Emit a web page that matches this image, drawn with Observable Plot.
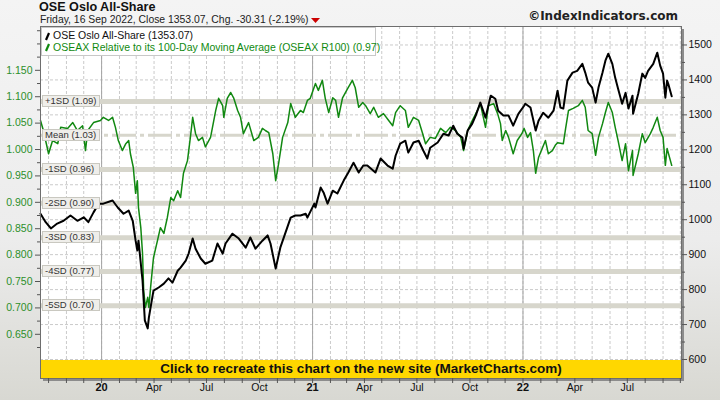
<!DOCTYPE html>
<html><head><meta charset="utf-8">
<script src="https://cdn.jsdelivr.net/npm/d3@7"></script>
<script src="https://cdn.jsdelivr.net/npm/@observablehq/plot@0.6"></script>
<style>
html,body{margin:0;padding:0;}
body{width:720px;height:400px;overflow:hidden;background:linear-gradient(#f4f4f4 0%,#ececec 60%,#d8d8d2 100%);font-family:"Liberation Sans",Arial,sans-serif;}
#wrap{position:relative;width:720px;height:400px;}
#header{position:relative;height:25px;}
#title{position:absolute;left:39px;top:0px;font-size:12.6px;line-height:14px;font-weight:bold;color:#111;}
#sub{position:absolute;left:40px;top:14px;font-size:10.4px;line-height:11px;color:#222;white-space:nowrap;}
#copy{position:absolute;right:42px;top:9px;font-family:"DejaVu Sans",sans-serif;font-size:12px;line-height:14px;font-weight:bold;color:#222;}
#shadow{position:absolute;left:43px;top:29px;width:641px;height:352px;background:#8c8c8c;}
#chart{position:relative;z-index:1;}
#legend{position:absolute;z-index:2;left:41px;top:27px;width:333px;height:27px;background:#fff;border:1px solid #c8c8c8;font-size:10.5px;}
#legend div{position:absolute;left:11px;white-space:nowrap;}
#legend svg{position:absolute;left:2px;}
.sd{position:absolute;z-index:2;left:42px;height:10px;width:54px;background:#efeeea;border:1px solid #c9c8c0;font-size:9.5px;line-height:10px;color:#333;padding-left:2px;white-space:nowrap;box-sizing:content-box;}
#banner{position:absolute;z-index:2;left:41px;top:360px;width:640px;height:18px;background:#ffd700;text-align:center;font-size:13.5px;font-weight:bold;line-height:18px;color:#111;font-family:"Liberation Sans",Arial,sans-serif;}
</style></head>
<body><div id="wrap">
<div id="header">
  <div id="title">OSE Oslo All-Share</div>
  <div id="sub">Friday, 16 Sep 2022, Close 1353.07, Chg. -30.31 (-2.19%) <svg width="10" height="7" style="vertical-align:middle"><polygon points="0,1 9,1 4.5,6" fill="#cc0000"/></svg></div>
  <div id="copy">©IndexIndicators.com</div>
</div>
<div id="shadow"></div>
<div id="chart"></div>
<div id="legend">
  <svg width="8" height="10" style="top:3px"><line x1="2" y1="9" x2="5" y2="2" stroke="#000" stroke-width="2.2"/></svg>
  <div style="top:1px;color:#111">OSE Oslo All-Share (1353.07)</div>
  <svg width="8" height="10" style="top:14px"><line x1="2" y1="9" x2="5" y2="2" stroke="#108a10" stroke-width="2.2"/></svg>
  <div style="top:13px;color:#108a10">OSEAX Relative to its 100-Day Moving Average (OSEAX R100) (0.97)</div>
</div>
<div id="banner">Click to recreate this chart on the new site (MarketCharts.com)</div>
</div>
<script>
// ---- data ----
const priceDates = ["2019-09-17","2019-09-26","2019-10-05","2019-10-16","2019-10-27","2019-11-08","2019-11-20","2019-12-01","2019-12-09","2019-12-18","2019-12-27","2020-01-04","2020-01-20","2020-01-29","2020-02-08","2020-02-17","2020-02-24","2020-02-29","2020-03-03","2020-03-05","2020-03-12","2020-03-16","2020-03-21","2020-03-23","2020-03-26","2020-03-31","2020-04-09","2020-04-18","2020-04-26","2020-05-03","2020-05-12","2020-05-17","2020-05-26","2020-05-31","2020-06-07","2020-06-12","2020-06-21","2020-06-29","2020-07-11","2020-07-20","2020-07-29","2020-08-03","2020-08-15","2020-08-26","2020-09-07","2020-09-15","2020-09-24","2020-10-06","2020-10-15","2020-10-20","2020-10-29","2020-11-06","2020-11-15","2020-11-24","2020-12-02","2020-12-11","2020-12-20","2020-12-23","2021-01-04","2021-01-06","2021-01-15","2021-01-20","2021-01-27","2021-02-05","2021-02-13","2021-02-24","2021-03-04","2021-03-13","2021-03-22","2021-03-30","2021-04-06","2021-04-20","2021-04-29","2021-05-11","2021-05-20","2021-05-25","2021-06-02","2021-06-11","2021-06-16","2021-06-25","2021-07-04","2021-07-12","2021-07-19","2021-07-24","2021-08-06","2021-08-16","2021-08-25","2021-09-02","2021-09-09","2021-09-18","2021-09-20","2021-09-27","2021-10-05","2021-10-11","2021-10-19","2021-10-28","2021-11-06","2021-11-14","2021-11-19","2021-11-28","2021-12-07","2021-12-15","2021-12-24","2022-01-03","2022-01-05","2022-01-14","2022-01-23","2022-01-28","2022-02-05","2022-02-14","2022-02-23","2022-03-02","2022-03-07","2022-03-12","2022-03-19","2022-03-28","2022-04-05","2022-04-14","2022-04-19","2022-04-24","2022-05-01","2022-05-07","2022-05-12","2022-05-19","2022-05-24","2022-05-29","2022-06-05","2022-06-10","2022-06-15","2022-06-22","2022-06-28","2022-07-03","2022-07-10","2022-07-11","2022-07-20","2022-07-27","2022-08-01","2022-08-06","2022-08-15","2022-08-22","2022-08-27","2022-09-01","2022-09-05","2022-09-08","2022-09-10","2022-09-16"];
const priceValues = [1017,993,975,989,997,1012,997,1007,993,1021,1046,1046,1055,1035,1017,1026,997,940,912,940,826,712,689,720,749,797,806,817,832,820,854,863,883,903,946,917,889,874,883,932,903,932,960,946,920,949,917,940,955,932,860,920,963,1006,1012,1012,1017,1006,1046,1035,1092,1078,1046,1083,1075,1112,1135,1163,1135,1155,1155,1135,1175,1155,1146,1183,1218,1226,1192,1221,1226,1198,1175,1206,1221,1246,1241,1269,1246,1235,1203,1255,1275,1298,1335,1292,1355,1346,1312,1298,1298,1269,1303,1326,1332,1321,1255,1283,1306,1292,1312,1369,1321,1318,1398,1421,1426,1446,1421,1392,1378,1335,1378,1421,1455,1475,1446,1406,1375,1332,1363,1318,1355,1303,1361,1418,1406,1426,1446,1478,1441,1418,1349,1398,1389,1353.07];

const ratioDates = ["2019-09-17","2019-09-22","2019-10-01","2019-10-08","2019-10-17","2019-10-22","2019-11-03","2019-11-12","2019-11-20","2019-11-29","2019-12-04","2019-12-08","2019-12-18","2019-12-30","2020-01-04","2020-01-13","2020-01-20","2020-01-25","2020-01-30","2020-02-06","2020-02-12","2020-02-17","2020-02-20","2020-02-25","2020-02-29","2020-03-03","2020-03-05","2020-03-09","2020-03-12","2020-03-14","2020-03-17","2020-03-21","2020-03-23","2020-03-26","2020-03-31","2020-04-07","2020-04-12","2020-04-18","2020-04-24","2020-04-30","2020-05-05","2020-05-12","2020-05-17","2020-05-22","2020-05-29","2020-06-03","2020-06-07","2020-06-12","2020-06-17","2020-06-24","2020-06-29","2020-07-08","2020-07-17","2020-07-22","2020-07-29","2020-07-31","2020-08-06","2020-08-12","2020-08-17","2020-08-24","2020-08-29","2020-09-03","2020-09-12","2020-09-21","2020-09-29","2020-10-06","2020-10-11","2020-10-17","2020-10-24","2020-10-29","2020-11-03","2020-11-10","2020-11-19","2020-11-24","2020-12-02","2020-12-11","2020-12-16","2020-12-23","2020-12-28","2021-01-06","2021-01-11","2021-01-18","2021-01-23","2021-01-29","2021-02-05","2021-02-10","2021-02-15","2021-02-22","2021-03-03","2021-03-11","2021-03-16","2021-03-22","2021-03-29","2021-04-03","2021-04-11","2021-04-17","2021-04-25","2021-05-04","2021-05-13","2021-05-20","2021-05-25","2021-06-02","2021-06-11","2021-06-16","2021-06-25","2021-07-04","2021-07-11","2021-07-16","2021-07-24","2021-08-02","2021-08-11","2021-08-20","2021-08-28","2021-09-06","2021-09-15","2021-09-20","2021-09-27","2021-10-05","2021-10-14","2021-10-19","2021-10-28","2021-11-02","2021-11-11","2021-11-18","2021-11-23","2021-11-26","2021-12-02","2021-12-07","2021-12-15","2021-12-22","2021-12-30","2022-01-03","2022-01-09","2022-01-14","2022-01-19","2022-01-23","2022-01-28","2022-02-04","2022-02-09","2022-02-14","2022-02-21","2022-02-26","2022-03-02","2022-03-12","2022-03-16","2022-03-21","2022-03-29","2022-04-07","2022-04-14","2022-04-19","2022-04-24","2022-05-01","2022-05-07","2022-05-12","2022-05-19","2022-05-24","2022-05-29","2022-06-05","2022-06-10","2022-06-15","2022-06-22","2022-06-28","2022-07-03","2022-07-10","2022-07-11","2022-07-20","2022-07-27","2022-08-01","2022-08-10","2022-08-15","2022-08-22","2022-08-27","2022-09-01","2022-09-05","2022-09-08","2022-09-16"];
const ratioValues = [1.055,1.036,0.992,1.017,1.011,1.042,1.040,1.051,1.036,1.045,0.998,1.036,1.051,1.055,1.061,1.055,1.061,1.042,1.017,0.998,1.011,1.017,0.992,0.966,0.917,0.941,0.890,0.852,0.803,0.733,0.701,0.720,0.701,0.739,0.795,0.828,0.852,0.841,0.871,0.909,0.903,0.922,0.909,0.955,0.979,1.023,1.061,1.030,1.017,1.023,1.005,1.023,1.074,1.097,1.083,1.061,1.097,1.108,1.098,1.074,1.061,1.030,1.051,1.017,1.023,1.040,1.036,1.032,0.992,0.941,0.973,1.023,1.051,1.087,1.061,1.074,1.070,1.093,1.097,1.125,1.112,1.131,1.097,1.070,1.098,1.093,1.061,1.098,1.116,1.131,1.117,1.080,1.089,1.083,1.068,1.080,1.061,1.068,1.055,1.045,1.070,1.083,1.074,1.042,1.061,1.055,1.030,1.011,1.023,1.021,1.040,1.032,1.042,1.036,1.023,0.998,1.036,1.055,1.074,1.087,1.042,1.083,1.087,1.068,1.049,1.017,1.036,1.023,0.992,1.017,1.030,1.040,1.023,1.032,0.998,0.955,0.985,1.004,1.017,0.992,0.998,1.008,1.013,1.011,1.040,1.074,1.078,1.083,1.093,1.080,1.036,1.030,0.989,1.023,1.049,1.070,1.089,1.070,1.042,1.017,0.979,1.011,0.960,0.998,0.951,0.992,1.030,1.013,1.030,1.042,1.061,1.036,1.023,0.970,1.002,0.970];

const ratioTicks = [0.65,0.70,0.75,0.80,0.85,0.90,0.95,1.00,1.05,1.10,1.15];
const ratioMinorTicks = [0.625,0.675,0.725,0.775,0.825,0.875,0.925,0.975,1.025,1.075,1.125,1.175,1.2,1.225];
const priceTicks = [600,700,800,900,1000,1100,1200,1300,1400,1500];
const priceMinorTicks = [550,650,750,850,950,1050,1150,1250,1350,1450,1550];
const sdLabels = ["+1SD (1.09)","Mean (1.03)","-1SD (0.96)","-2SD (0.90)","-3SD (0.83)","-4SD (0.77)","-5SD (0.70)"];
const sdValues = [1.091,1.027,0.962,0.898,0.833,0.769,0.704];
const yearStarts = ["2020-01-01","2021-01-01","2022-01-01"];
const quarterStarts = ["2020-04-01","2020-07-01","2020-10-01","2021-04-01","2021-07-01","2021-10-01","2022-04-01","2022-07-01"];

// ---- build ----
const xDomain = [new Date("2019-09-17"), new Date("2022-10-03")];
const yDomain = [0.5663, 1.233];
// right-hand (price) axis mapped onto the ratio axis
const priceToR = d3.scaleLinear().domain([600, 1500]).range([0.6023, 1.1980]);

const priceData = priceDates.map((d, i) => ({date: new Date(d), r: priceToR(priceValues[i])}));
const ratioData = ratioDates.map((d, i) => ({date: new Date(d), r: ratioValues[i]}));
const months = d3.utcMonth.range(new Date("2019-10-01"), xDomain[1]);
const years = yearStarts.map(d => new Date(d));
const quarters = quarterStarts.map(d => new Date(d));
const gridY = priceTicks.map(priceToR);
const meanIdx = 1;
const noText = () => "";

const chart = Plot.plot({
  width: 720, height: 375,
  marginTop: 1, marginBottom: 22, marginLeft: 40, marginRight: 39,
  x: {type: "utc", domain: xDomain, label: null},
  y: {domain: yDomain, label: null},
  style: {background: "transparent", fontFamily: "'Liberation Sans', Arial, sans-serif", fontSize: "10.5px", color: "#111", overflow: "visible"},
  marks: [
    Plot.frame({fill: "white", stroke: null}),
    Plot.ruleX(months, {stroke: "#cacaca", strokeDasharray: "3,2"}),
    Plot.ruleY(gridY, {stroke: "#cacaca", strokeDasharray: "3,2"}),
    Plot.ruleX(years, {stroke: "#a4a4a4"}),
    Plot.ruleY(sdValues.filter((d, i) => i !== meanIdx), {stroke: "#d7d6cc", strokeWidth: 5}),
    Plot.ruleY([sdValues[meanIdx]], {stroke: "#d7d6cc", strokeWidth: 3, strokeDasharray: "24,4,4,4"}),
    Plot.line(ratioData, {x: "date", y: "r", stroke: "#118811", strokeWidth: 1.5}),
    Plot.line(priceData, {x: "date", y: "r", stroke: "#000", strokeWidth: 2}),
    Plot.frame({stroke: "#6e6e6e"}),
    // left axis
    Plot.axisY(ratioTicks, {anchor: "left", label: null, tickSize: 5, tickFormat: noText, stroke: "#555"}),
    Plot.axisY(ratioMinorTicks.filter(d => d < 1.23), {anchor: "left", label: null, tickSize: 3, tickFormat: noText, stroke: "#555"}),
    Plot.axisY(ratioTicks, {anchor: "left", label: null, tickSize: 0, tickPadding: 8, tickFormat: d3.format(".3f"), fill: "#2b8f2b", fontSize: 10.5}),
    // right axis (price)
    Plot.axisY(priceTicks.map(priceToR), {anchor: "right", label: null, tickSize: 5, tickFormat: noText, stroke: "#555"}),
    Plot.axisY(priceMinorTicks.map(priceToR).filter(d => d < 1.23 && d > 0.57), {anchor: "right", label: null, tickSize: 3, tickFormat: noText, stroke: "#555"}),
    Plot.axisY(priceTicks.map(priceToR), {anchor: "right", label: null, tickSize: 0, tickPadding: 7, tickFormat: d => String(Math.round(priceToR.invert(d))), fill: "#111", fontSize: 10.5}),
    // x axis
    Plot.axisX(months, {label: null, tickSize: 5, tickFormat: noText, stroke: "#555"}),
    Plot.axisX(years, {label: null, tickSize: 0, tickPadding: 5, tickFormat: d3.utcFormat("%y"), fontWeight: "bold", fontSize: 11}),
    Plot.axisX(quarters, {label: null, tickSize: 0, tickPadding: 5, tickFormat: d3.utcFormat("%b"), fontSize: 10.5})
  ]
});
document.getElementById("chart").appendChild(chart);

// SD label boxes placed with the plot's y scale
const ys = chart.scale("y");
const wrap = document.getElementById("wrap");
sdLabels.forEach((t, i) => {
  const el = document.createElement("div");
  el.className = "sd";
  el.textContent = t;
  el.style.top = (25 + ys.apply(sdValues[i]) - 6) + "px";
  wrap.appendChild(el);
});
</script>
</body></html>
